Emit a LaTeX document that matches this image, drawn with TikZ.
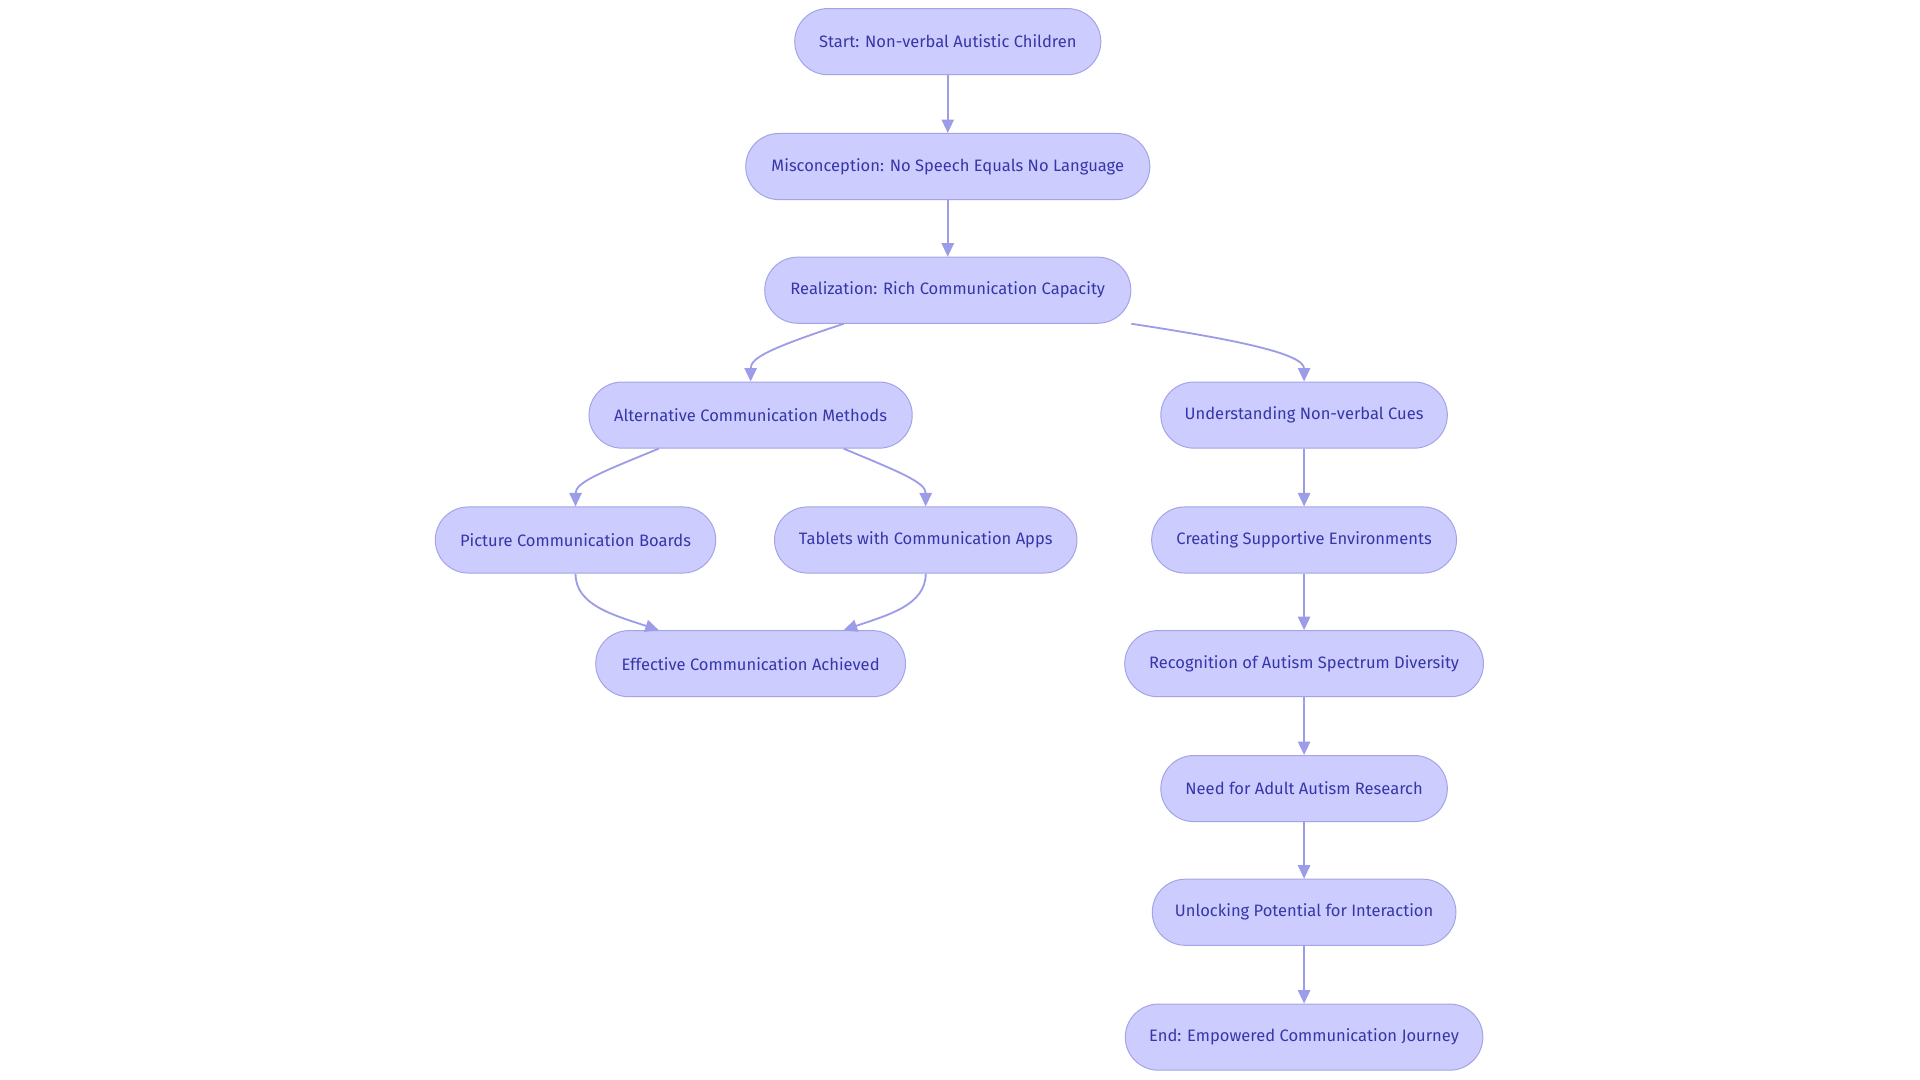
\documentclass[tikz,border=0pt]{standalone}
\usepackage{fontspec}
\setmainfont{Fira Sans}
\usetikzlibrary{arrows.meta,calc}
\definecolor{boxfill}{HTML}{CCCCFF}
\definecolor{boxline}{HTML}{A3A3E6}
\definecolor{boxtext}{HTML}{3636A8}
\definecolor{edge}{HTML}{9C9CE8}
\begin{document}
\begin{tikzpicture}[x=1pt,y=-1pt,
  font=\fontsize{13.5}{16}\selectfont,
  stage/.style={draw=boxline, fill=boxfill, text=boxtext, rounded corners=27pt, minimum height=54pt, inner xsep=0pt, line width=0.8pt},
  arrow/.style={draw=edge, line width=1.5pt, -{Triangle[length=11pt,width=10pt]}}
]
\useasboundingbox (0,0) rectangle (1568,882);

% Main column
\node[stage, minimum width=250pt] (start) at (774,34) {Start: Non-verbal Autistic Children};
\node[stage, minimum width=330pt] (misc) at (774,136) {Misconception: No Speech Equals No Language};
\node[stage, minimum width=299pt] (real) at (774,237) {Realization: Rich Communication Capacity};

% Left branch
\node[stage, minimum width=264pt] (alt) at (613,339) {Alternative Communication Methods};
\node[stage, minimum width=229pt] (pic) at (470,441) {Picture Communication Boards};
\node[stage, minimum width=247pt] (tab) at (756,441) {Tablets with Communication Apps};
\node[stage, minimum width=253pt] (eff) at (613,542) {Effective Communication Achieved};

% Right branch
\node[stage, minimum width=234pt] (und) at (1065,339) {Understanding Non-verbal Cues};
\node[stage, minimum width=249pt] (cre) at (1065,441) {Creating Supportive Environments};
\node[stage, minimum width=293pt] (rec) at (1065,542) {Recognition of Autism Spectrum Diversity};
\node[stage, minimum width=234pt] (need) at (1065,644) {Need for Adult Autism Research};
\node[stage, minimum width=248pt] (unl) at (1065,745) {Unlocking Potential for Interaction};
\node[stage, minimum width=292pt] (end) at (1065,847) {End: Empowered Communication Journey};

% Straight links
\draw[arrow] (start) -- (misc);
\draw[arrow] (misc) -- (real);
\draw[arrow] (und) -- (cre);
\draw[arrow] (cre) -- (rec);
\draw[arrow] (rec) -- (need);
\draw[arrow] (need) -- (unl);
\draw[arrow] (unl) -- (end);

% Curved links
\draw[arrow] ($(real.south)+(-85,0)$) .. controls (630,284) and (613,292) .. (alt.north);
\draw[arrow] (real.south east) .. controls (1000,276) and (1065,288) .. (und.north);
\draw[arrow] ($(alt.south)+(-75,0)$) .. controls (490,386) and (470,394) .. (pic.north);
\draw[arrow] ($(alt.south)+(76,0)$) .. controls (736,386) and (756,394) .. (tab.north);
\draw[arrow] (pic.south) .. controls (470,494) and (500,502) .. ($(eff.north)+(-75,0)$);
\draw[arrow] (tab.south) .. controls (756,494) and (726,502) .. ($(eff.north)+(76,0)$);
\end{tikzpicture}
\end{document}
